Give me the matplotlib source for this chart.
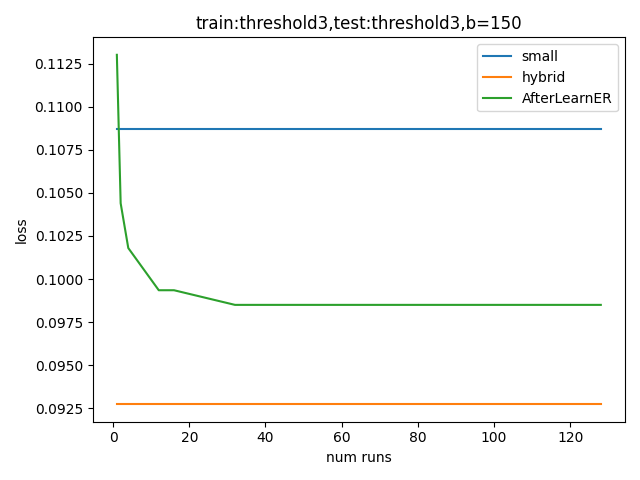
import matplotlib
matplotlib.use("Agg")
import matplotlib.pyplot as plt

runs = [1, 2, 4, 12, 16, 32, 128]
small = [0.10870] * len(runs)
hybrid = [0.09273] * len(runs)
after = [0.11302, 0.10440, 0.10180, 0.09935, 0.09935, 0.09850, 0.09850]

fig, ax = plt.subplots(figsize=(6.4, 4.8), dpi=100)
ax.plot(runs, small, label="small")
ax.plot(runs, hybrid, label="hybrid")
ax.plot(runs, after, label="AfterLearnER")
ax.set_xlabel("num runs")
ax.set_ylabel("loss")
ax.set_title("train:threshold3,test:threshold3,b=150")
ax.legend()
fig.tight_layout()
fig.savefig("out.png")
